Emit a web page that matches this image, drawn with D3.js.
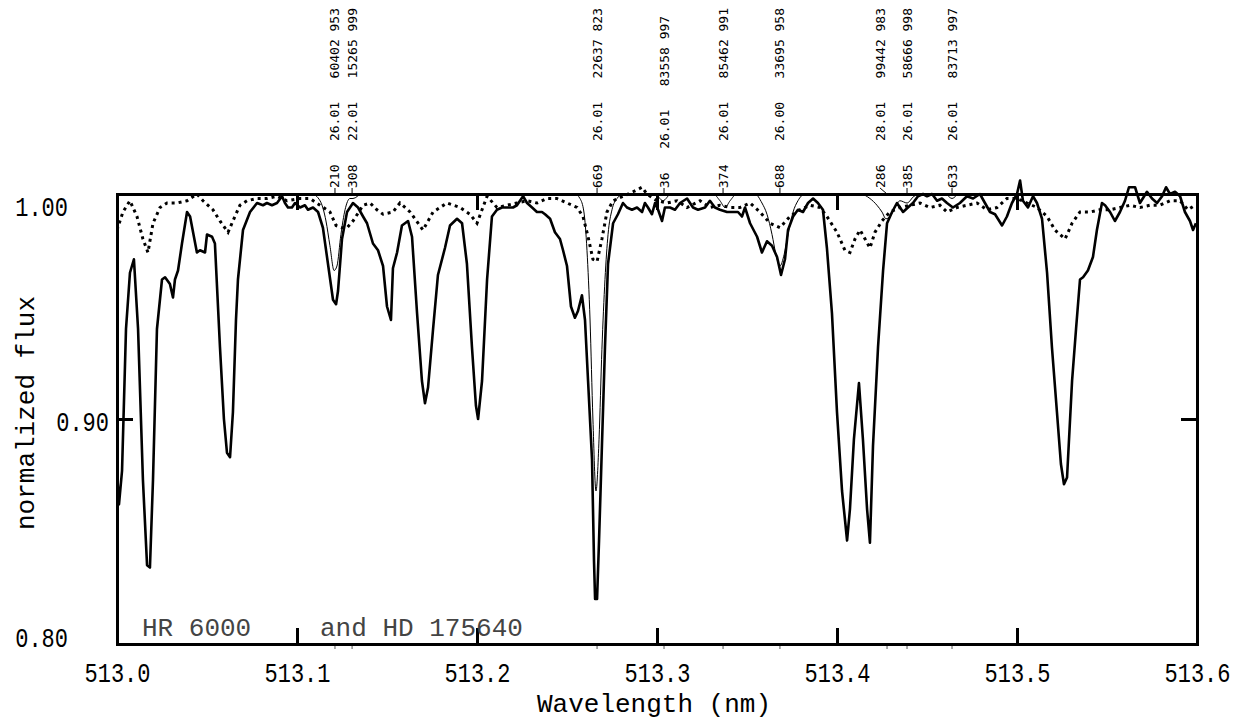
<!DOCTYPE html>
<html>
<head>
<meta charset="utf-8">
<script src="https://cdn.jsdelivr.net/npm/d3@7"></script>
<style>
  html, body { margin: 0; padding: 0; background: #fff; }
  svg { display: block; }
</style>
</head>
<body>
<div id="chart"></div>
<script>
// axis ticks
const xTicks = [513.0, 513.1, 513.2, 513.3, 513.4, 513.5, 513.6]
const yTicks = [0.80, 0.90, 1.00]

// observed spectrum of HR 6000 (thick line) : [wavelength nm, normalized flux]
const hrSpectrum = [
  [513.0000,0.877],[513.0011,0.862],[513.0028,0.877],[513.0050,0.940],[513.0072,0.965],[513.0094,0.971],
  [513.0117,0.940],[513.0144,0.873],[513.0167,0.835],[513.0183,0.834],[513.0200,0.873],[513.0222,0.940],
  [513.0250,0.962],[513.0267,0.963],[513.0294,0.960],[513.0311,0.954],[513.0322,0.962],[513.0339,0.966],
  [513.0361,0.978],[513.0389,0.992],[513.0406,0.990],[513.0444,0.974],[513.0461,0.975],[513.0489,0.974],
  [513.0500,0.982],[513.0528,0.981],[513.0544,0.978],[513.0572,0.932],[513.0594,0.900],[513.0611,0.885],
  [513.0628,0.883],[513.0644,0.903],[513.0661,0.944],[513.0672,0.962],[513.0700,0.984],[513.0739,0.992],
  [513.0778,0.996],[513.0811,0.995],[513.0833,0.996],[513.0861,0.995],[513.0889,0.996],[513.0917,0.999],
  [513.0933,0.996],[513.0950,0.994],[513.0972,0.994],[513.0989,0.996],[513.1017,0.994],[513.1044,0.995],
  [513.1061,0.993],[513.1089,0.994],[513.1117,0.992],[513.1144,0.985],[513.1172,0.969],[513.1200,0.953],
  [513.1217,0.951],[513.1228,0.957],[513.1250,0.980],[513.1278,0.992],[513.1311,0.996],[513.1339,0.994],
  [513.1367,0.990],[513.1389,0.987],[513.1422,0.978],[513.1450,0.975],[513.1478,0.968],[513.1500,0.950],
  [513.1522,0.944],[513.1533,0.967],[513.1556,0.974],[513.1583,0.986],[513.1617,0.988],[513.1639,0.981],
  [513.1667,0.947],[513.1694,0.917],[513.1711,0.907],[513.1728,0.914],[513.1756,0.940],[513.1783,0.964],
  [513.1822,0.976],[513.1850,0.986],[513.1889,0.989],[513.1917,0.987],[513.1944,0.969],[513.1972,0.932],
  [513.1994,0.906],[513.2006,0.900],[513.2028,0.917],[513.2056,0.962],[513.2083,0.990],[513.2111,0.993],
  [513.2139,0.994],[513.2172,0.994],[513.2200,0.994],[513.2222,0.995],[513.2239,0.997],[513.2256,0.999],
  [513.2278,0.996],[513.2306,0.994],[513.2333,0.992],[513.2361,0.992],[513.2378,0.991],[513.2406,0.989],
  [513.2433,0.983],[513.2461,0.980],[513.2478,0.975],[513.2500,0.968],[513.2522,0.950],[513.2544,0.945],
  [513.2561,0.948],[513.2583,0.955],[513.2600,0.944],[513.2617,0.917],[513.2639,0.882],[513.2650,0.837],
  [513.2656,0.820],[513.2667,0.820],[513.2678,0.846],[513.2694,0.888],[513.2711,0.932],[513.2728,0.969],
  [513.2756,0.987],[513.2783,0.991],[513.2811,0.996],[513.2833,0.994],[513.2861,0.993],[513.2889,0.994],
  [513.2917,0.992],[513.2933,0.996],[513.2950,0.994],[513.2972,0.991],[513.2989,0.996],[513.3006,0.993],
  [513.3028,0.988],[513.3044,0.994],[513.3072,0.994],[513.3100,0.993],[513.3128,0.996],[513.3167,0.998],
  [513.3200,0.994],[513.3228,0.993],[513.3267,0.994],[513.3294,0.997],[513.3322,0.994],[513.3350,0.993],
  [513.3389,0.992],[513.3422,0.992],[513.3450,0.992],[513.3472,0.990],[513.3489,0.994],[513.3517,0.987],
  [513.3556,0.981],[513.3583,0.974],[513.3611,0.979],[513.3639,0.977],[513.3667,0.972],[513.3689,0.964],
  [513.3711,0.971],[513.3728,0.984],[513.3756,0.990],[513.3783,0.993],[513.3811,0.992],[513.3839,0.996],
  [513.3867,0.998],[513.3894,0.996],[513.3922,0.993],[513.3944,0.976],[513.3972,0.947],[513.4000,0.903],
  [513.4028,0.868],[513.4056,0.846],[513.4072,0.860],[513.4094,0.891],[513.4122,0.916],[513.4144,0.891],
  [513.4167,0.860],[513.4183,0.845],[513.4200,0.888],[513.4228,0.932],[513.4256,0.966],[513.4278,0.987],
  [513.4306,0.992],[513.4333,0.996],[513.4350,0.994],[513.4367,0.992],[513.4394,0.994],[513.4422,0.996],
  [513.4450,0.999],[513.4478,1.000],[513.4500,0.999],[513.4528,1.000],[513.4556,0.997],[513.4583,0.998],
  [513.4611,0.996],[513.4644,0.994],[513.4683,0.996],[513.4722,0.999],[513.4756,0.998],[513.4794,1.000],
  [513.4822,0.996],[513.4850,0.992],[513.4878,0.991],[513.4917,0.986],[513.4944,0.990],[513.4972,0.996],
  [513.5000,1.000],[513.5017,1.006],[513.5033,0.997],[513.5061,0.994],[513.5089,0.999],[513.5111,0.996],
  [513.5139,0.989],[513.5167,0.965],[513.5194,0.932],[513.5222,0.903],[513.5244,0.880],[513.5261,0.871],
  [513.5278,0.874],[513.5306,0.917],[513.5328,0.940],[513.5350,0.962],[513.5367,0.963],[513.5394,0.966],
  [513.5422,0.972],[513.5444,0.984],[513.5472,0.996],[513.5489,0.995],[513.5517,0.992],[513.5544,0.988],
  [513.5572,0.992],[513.5600,0.997],[513.5622,1.003],[513.5656,1.003],[513.5683,0.996],[513.5722,1.001],
  [513.5750,0.998],[513.5778,0.996],[513.5806,0.999],[513.5828,1.003],[513.5850,1.000],[513.5878,1.001],
  [513.5906,0.999],[513.5933,0.992],[513.5961,0.988],[513.5978,0.984],[513.5994,0.987]
]

// observed spectrum of HD 175640 (dotted line)
const hdSpectrum = [
  [513.0000,0.984],[513.0033,0.992],[513.0072,0.997],[513.0111,0.990],[513.0144,0.980],[513.0172,0.974],
  [513.0200,0.987],[513.0239,0.994],[513.0278,0.996],[513.0333,0.996],[513.0389,0.997],[513.0444,1.000],
  [513.0478,0.997],[513.0533,0.993],[513.0572,0.988],[513.0617,0.983],[513.0644,0.988],[513.0683,0.995],
  [513.0722,0.997],[513.0778,0.998],[513.0833,0.998],[513.0889,0.999],[513.0944,0.997],[513.1017,0.998],
  [513.1072,0.998],[513.1128,0.995],[513.1183,0.992],[513.1217,0.986],[513.1250,0.985],[513.1278,0.985],
  [513.1311,0.988],[513.1367,0.995],[513.1406,0.996],[513.1444,0.993],[513.1478,0.991],[513.1533,0.992],
  [513.1572,0.996],[513.1628,0.992],[513.1700,0.984],[513.1756,0.992],[513.1833,0.996],[513.1906,0.994],
  [513.1961,0.991],[513.2000,0.987],[513.2056,0.999],[513.2111,0.994],[513.2167,0.995],[513.2222,0.996],
  [513.2278,0.997],[513.2333,0.996],[513.2389,0.998],[513.2444,0.998],[513.2500,0.996],[513.2556,0.994],
  [513.2589,0.990],[513.2617,0.981],[513.2644,0.971],[513.2667,0.970],[513.2694,0.980],[513.2722,0.992],
  [513.2756,0.997],[513.2811,0.999],[513.2867,1.001],[513.2917,1.003],[513.2944,1.000],[513.3000,0.997],
  [513.3056,0.996],[513.3111,0.997],[513.3167,0.994],[513.3239,0.997],[513.3294,0.994],[513.3350,0.995],
  [513.3406,0.994],[513.3461,0.994],[513.3517,0.996],[513.3572,0.992],[513.3628,0.987],[513.3683,0.985],
  [513.3739,0.990],[513.3794,0.993],[513.3850,0.995],[513.3906,0.994],[513.3944,0.990],[513.4000,0.983],
  [513.4044,0.975],[513.4072,0.974],[513.4100,0.980],[513.4128,0.984],[513.4156,0.980],[513.4183,0.976],
  [513.4211,0.983],[513.4250,0.988],[513.4294,0.992],[513.4350,0.994],[513.4406,0.995],[513.4461,0.996],
  [513.4517,0.994],[513.4572,0.995],[513.4611,0.992],[513.4667,0.994],[513.4722,0.995],[513.4778,0.996],
  [513.4833,0.993],[513.4889,0.994],[513.4944,0.998],[513.5000,0.998],[513.5056,0.996],[513.5111,0.994],
  [513.5167,0.990],[513.5211,0.984],[513.5267,0.980],[513.5306,0.987],[513.5350,0.992],[513.5406,0.992],
  [513.5461,0.993],[513.5517,0.993],[513.5572,0.994],[513.5628,0.995],[513.5683,0.994],[513.5739,0.995],
  [513.5794,0.995],[513.5850,0.997],[513.5906,0.997],[513.5950,0.993],[513.5989,0.995]
]

// synthetic spectrum (thin line)
const synthSpectrum = [
  [513.0000,1.000],[513.1083,1.000],[513.1128,0.997],[513.1161,0.988],[513.1183,0.977],[513.1206,0.966],
  [513.1222,0.968],[513.1244,0.982],[513.1267,0.993],[513.1294,0.998],[513.1311,0.998],[513.1361,1.000],
  [513.2544,1.000],[513.2572,0.998],[513.2594,0.992],[513.2611,0.975],[513.2628,0.944],[513.2644,0.900],
  [513.2661,0.868],[513.2678,0.891],[513.2694,0.931],[513.2711,0.962],[513.2728,0.982],[513.2750,0.993],
  [513.2778,0.998],[513.2811,1.000],[513.2989,1.000],[513.3033,0.997],[513.3078,1.000],[513.3311,1.000],
  [513.3350,0.997],[513.3378,0.994],[513.3406,0.997],[513.3444,1.000],[513.3544,1.000],[513.3583,0.996],
  [513.3611,0.991],[513.3639,0.982],[513.3661,0.973],[513.3683,0.968],[513.3706,0.973],[513.3728,0.982],
  [513.3756,0.992],[513.3783,0.997],[513.3822,1.000],[513.4128,1.000],[513.4183,0.998],[513.4222,0.995],
  [513.4250,0.992],[513.4272,0.989],[513.4294,0.990],[513.4322,0.994],[513.4350,0.997],[513.4389,0.996],
  [513.4428,0.999],[513.4472,1.000],[513.4600,1.000],[513.4639,0.998],[513.4678,1.000],[513.6000,1.000]
]

// identified lines: wavelength, line number, element code, wavelength tail + depth
const lineWaves = [513.1211, 513.1306, 513.2667, 513.3039, 513.3367, 513.3683, 513.4278, 513.4389, 513.4639]
const lineIds   = ["210", "308", "669", "36", "374", "688", "286", "385", "633"]
const lineCodes = ["26.01", "22.01", "26.01", "26.01", "26.01", "26.00", "28.01", "26.01", "26.01"]
const lineInfo  = ["60402 953", "15265 999", "22637 823", "83558 997", "85462 991", "33695 958", "99442 983", "58666 998", "83713 997"]

const starA = "HR 6000"
const starB = "and HD 175640"

const totalWidth = 1258
const totalHeight = 722
const margin = { top: 194, right: 61, bottom: 78, left: 117 }
const width = totalWidth - margin.left - margin.right
const height = totalHeight - margin.top - margin.bottom

const monoFont = "'Liberation Mono', 'DejaVu Sans Mono', monospace"
const labelFont = "'DejaVu Sans Mono', 'Liberation Mono', monospace"

const svg = d3.select("#chart")
  .append("svg")
  .attr("width", totalWidth)
  .attr("height", totalHeight)
  .style("background-color", "#fff")

const g = svg.append("g")
  .attr("transform", `translate(${margin.left},${margin.top})`)

const x = d3.scaleLinear().domain([513.0, 513.6]).range([0, width])
const y = d3.scaleLinear().domain([0.80, 1.00]).range([height, 0])

// clip spectra at the sides and bottom of the frame only
svg.append("defs").append("clipPath")
  .attr("id", "plot-clip")
  .append("rect")
  .attr("x", 0)
  .attr("y", -margin.top)
  .attr("width", width)
  .attr("height", height + margin.top)

const line = d3.line()
  .x(d => x(d[0]))
  .y(d => y(d[1]))

const spectra = g.append("g").attr("clip-path", "url(#plot-clip)")

// synthetic spectrum, thin
spectra.append("path")
  .datum(synthSpectrum)
  .attr("d", line.curve(d3.curveMonotoneX))
  .attr("fill", "none")
  .attr("stroke", "#000")
  .attr("stroke-width", 1)

// HD 175640, dotted
spectra.append("path")
  .datum(hdSpectrum)
  .attr("d", line.curve(d3.curveLinear))
  .attr("fill", "none")
  .attr("stroke", "#000")
  .attr("stroke-width", 3)
  .attr("stroke-dasharray", "3,4")

// HR 6000, thick
spectra.append("path")
  .datum(hrSpectrum)
  .attr("d", line.curve(d3.curveLinear))
  .attr("fill", "none")
  .attr("stroke", "#000")
  .attr("stroke-width", 2.6)
  .attr("stroke-linejoin", "round")

// Axes: ticks point inside the frame
const tickLen = 16
const axisBottom = g.append("g")
  .attr("transform", `translate(0,${height})`)
  .call(d3.axisBottom(x).tickValues(xTicks).tickSizeInner(-tickLen).tickSizeOuter(0).tickFormat(d3.format(".1f")))
const axisTop = g.append("g")
  .call(d3.axisTop(x).tickValues(xTicks).tickSizeInner(-tickLen).tickSizeOuter(0).tickFormat(""))
const axisLeft = g.append("g")
  .call(d3.axisLeft(y).tickValues(yTicks).tickSizeInner(-tickLen).tickSizeOuter(0).tickFormat(d3.format(".2f")))
const axisRight = g.append("g")
  .attr("transform", `translate(${width},0)`)
  .call(d3.axisRight(y).tickValues(yTicks).tickSizeInner(-tickLen).tickSizeOuter(0).tickFormat(""))

;[axisBottom, axisTop, axisLeft, axisRight].forEach(ax => {
  ax.select(".domain")
    .attr("stroke", "#000")
    .attr("stroke-width", 3)
    .attr("stroke-linecap", "square")
  ax.selectAll(".tick line")
    .attr("stroke", "#000")
    .attr("stroke-width", 3)
})

// tick labels: condensed mono digits
const digitAdvance = 13.2
axisBottom.selectAll(".tick text")
  .attr("y", 38)
  .attr("dy", null)
  .attr("fill", "#000")
  .style("font-family", monoFont)
  .style("font-size", "28px")
  .attr("textLength", d => d3.format(".1f")(d).length * digitAdvance)
  .attr("lengthAdjust", "spacingAndGlyphs")

// the middle label sits clear of the axis title
axisLeft.selectAll(".tick text")
  .attr("x", d => d === 0.90 ? -8 : -49)
  .attr("y", d => d === 1.00 ? 21 : (d === 0.80 ? 2 : 11))
  .attr("dy", null)
  .attr("fill", "#000")
  .style("font-family", monoFont)
  .style("font-size", "28px")
  .attr("textLength", d => d3.format(".2f")(d).length * digitAdvance)
  .attr("lengthAdjust", "spacingAndGlyphs")

// axis titles
g.append("text")
  .attr("x", width / 2 - 3)
  .attr("y", height + 68)
  .attr("text-anchor", "middle")
  .style("font-family", monoFont)
  .style("font-size", "26px")
  .attr("fill", "#000")
  .text("Wavelength (nm)")

g.append("text")
  .attr("transform", `translate(${-margin.left + 34},${height / 2 - 6}) rotate(-90)`)
  .attr("text-anchor", "middle")
  .style("font-family", monoFont)
  .style("font-size", "26px")
  .attr("fill", "#000")
  .text("normalized flux")

// star names inside the frame
g.append("text")
  .attr("x", x(513.0) + 25)
  .attr("y", height - 8)
  .style("font-family", monoFont)
  .style("font-size", "26px")
  .attr("fill", "#444")
  .text(starA)

g.append("text")
  .attr("x", x(513.0) + 203)
  .attr("y", height - 8)
  .style("font-family", monoFont)
  .style("font-size", "26px")
  .attr("fill", "#444")
  .text(starB)

// line identifications above the frame
const lines = lineWaves.map((w, i) => ({ w, id: lineIds[i], code: lineCodes[i], info: lineInfo[i] }))
const labelNudge = { "286": -7 }

const idGroup = g.append("g")
lines.forEach(d => {
  const lx = x(d.w)
  const tx = lx + (labelNudge[d.id] || 0)

  // leader from label to top axis
  idGroup.append("line")
    .attr("x1", tx).attr("y1", -6)
    .attr("x2", lx).attr("y2", 0)
    .attr("stroke", "#000")
    .attr("stroke-width", 1)

  // small mark under the bottom axis
  idGroup.append("line")
    .attr("x1", lx).attr("y1", height + 2)
    .attr("x2", lx).attr("y2", height + 5)
    .attr("stroke", "#555")
    .attr("stroke-width", 1)

  idGroup.append("text")
    .attr("transform", `translate(${tx + 4.5},-6) rotate(-90)`)
    .attr("xml:space", "preserve")
    .style("white-space", "pre")
    .style("font-family", labelFont)
    .style("font-size", "13px")
    .attr("fill", "#000")
    .text(`${d.id}   ${d.code}   ${d.info}`)
})
</script>
</body>
</html>
